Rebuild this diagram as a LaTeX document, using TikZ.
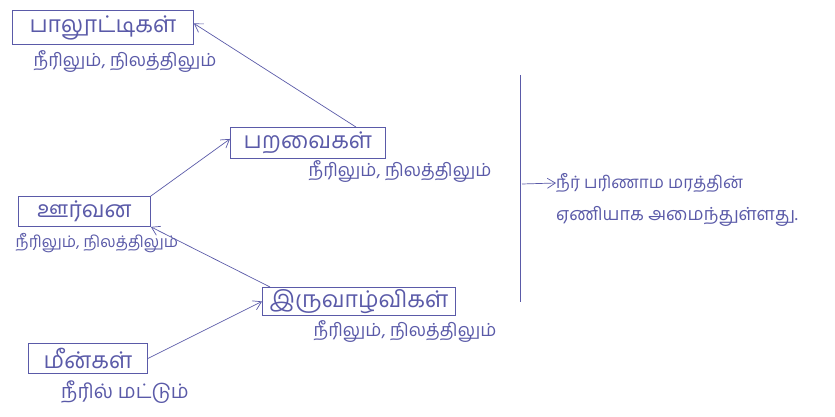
\documentclass[tikz,border=0pt]{standalone}
\usepackage{fontspec}
\newfontfamily\tam[Script=Tamil]{Hind Madurai}
\usetikzlibrary{arrows.meta}
\definecolor{ink}{HTML}{5A5AA8}
\tikzset{
  x=1pt, y=-1pt,
  box/.style={draw=ink, line width=0.9pt, text=ink, font=\tam\fontsize{23}{26}\selectfont, inner sep=0pt, anchor=north west},
  lab/.style={text=ink, font=\tam\fontsize{18}{21}\selectfont, inner sep=0pt},
  conn/.style={draw=ink, line width=0.7pt, -{Straight Barb[length=8pt,width=10pt]}}
}
\begin{document}
\begin{tikzpicture}
\useasboundingbox (0,0) rectangle (835,417);
\node[box, minimum width=181pt, minimum height=34pt] (mam) at (12,10) {பாலூட்டிகள்};
\node[lab] (maml) at (125,62) {நீரிலும், நிலத்திலும்};
\node[box, minimum width=155pt, minimum height=31pt] (bird) at (230,127) {பறவைகள்};
\node[lab] (birdl) at (400,172) {நீரிலும், நிலத்திலும்};
\node[box, minimum width=132pt, minimum height=30pt] (rep) at (18,196) {ஊர்வன};
\node[lab, font=\tam\fontsize{16}{19}\selectfont] (repl) at (97,243) {நீரிலும், நிலத்திலும்};
\node[box, minimum width=193pt, minimum height=28pt] (amp) at (262,287) {இருவாழ்விகள்};
\node[lab] (ampl) at (405,332) {நீரிலும், நிலத்திலும்};
\node[box, minimum width=119pt, minimum height=30pt] (fish) at (28,343) {மீன்கள்};
\node[lab, font=\tam\fontsize{20}{23}\selectfont] (fishl) at (125,392) {நீரில் மட்டும்};
\coordinate (vt) at (520,75);
\coordinate (vb) at (520,302);
\draw[ink, line width=0.9pt] (vt) -- (vb);
\coordinate (as) at (522,184);
\node[lab, anchor=west, font=\tam\fontsize{17}{20}\selectfont] (c1) at (556,183) {நீர் பரிணாம மரத்தின்};
\node[lab, anchor=west, font=\tam\fontsize{18}{21}\selectfont] (c2) at (556,216) {ஏணியாக அமைந்துள்ளது.};
\draw[conn] (as) -- (c1.west);
\draw[conn] (fish.east) -- (amp.west);
\draw[conn] ([xshift=8pt]amp.north west) -- (rep.south east);
\draw[conn] (rep.north east) -- ([yshift=4pt]bird.west);
\draw[conn] ([xshift=-30pt]bird.north east) -- ([yshift=4pt]mam.east);
\end{tikzpicture}
\end{document}
